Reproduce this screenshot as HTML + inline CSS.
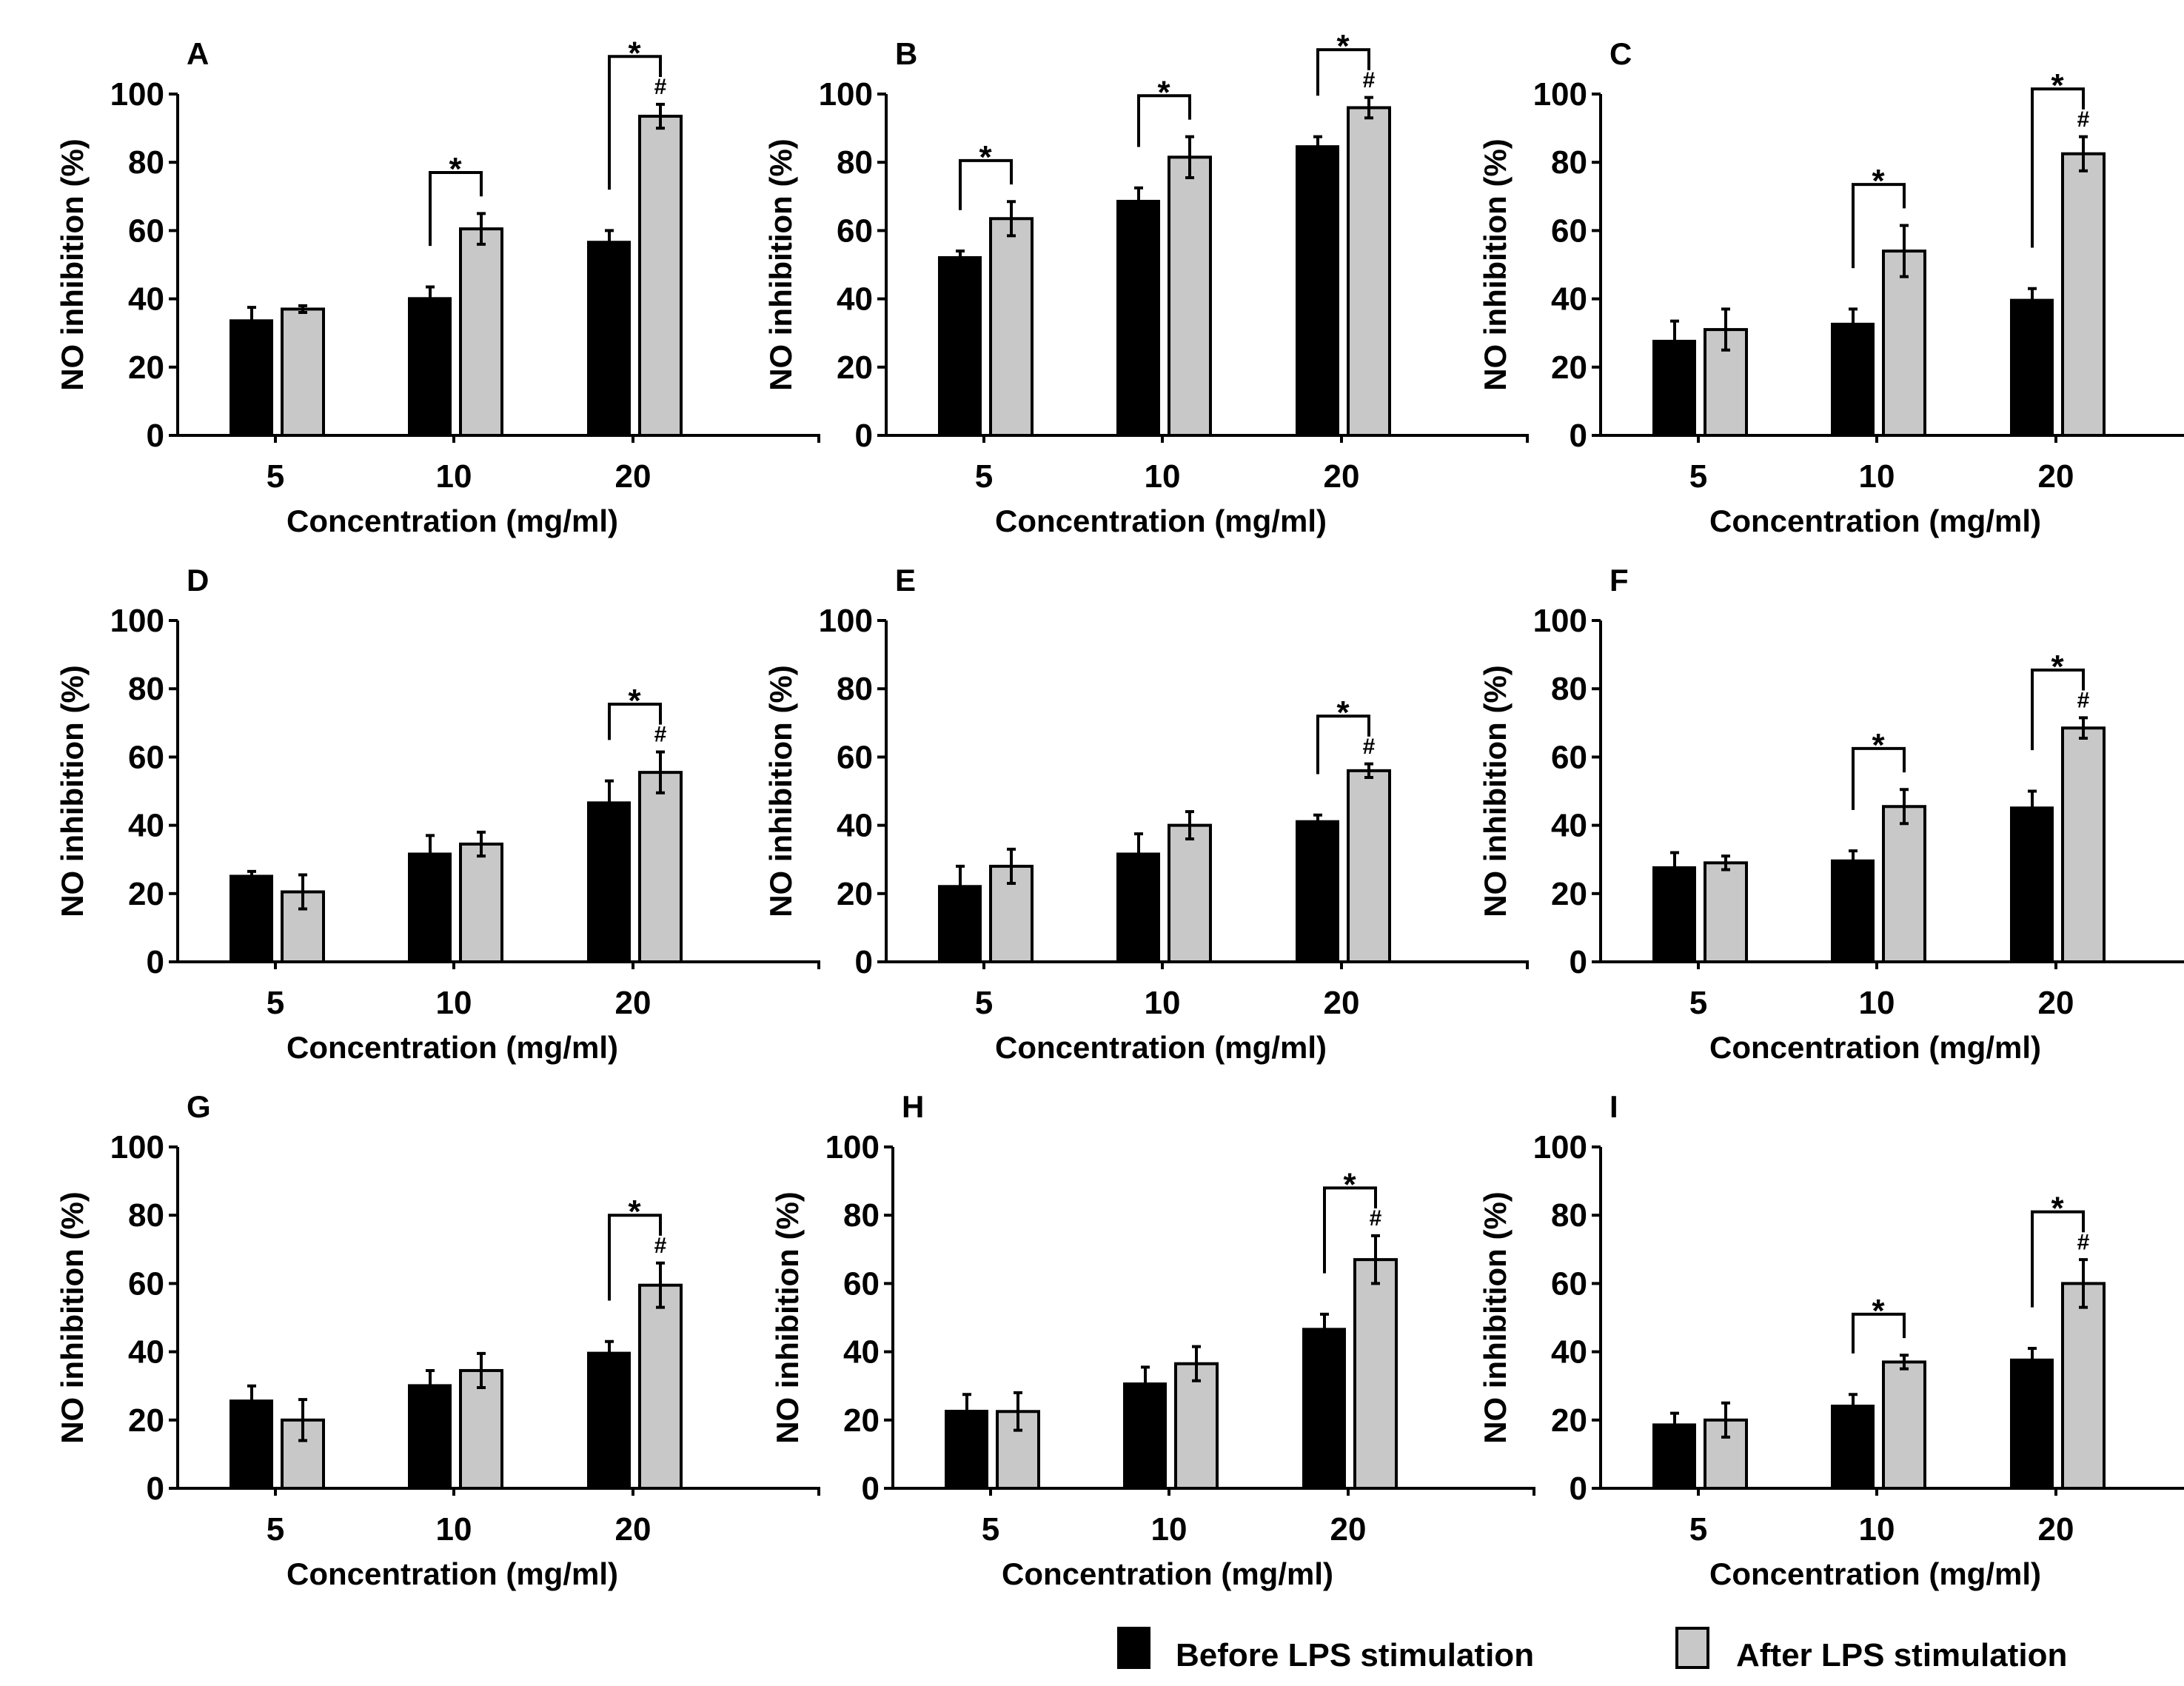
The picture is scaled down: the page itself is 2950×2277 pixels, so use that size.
<!DOCTYPE html>
<html><head><meta charset="utf-8"><style>
html,body{margin:0;padding:0;background:#fff;}
svg{display:block;font-family:"Liberation Sans",Arial,sans-serif;font-weight:bold;}
</style></head><body>
<svg id="fig" width="2950" height="2277" viewBox="0 0 2950 2277" xmlns="http://www.w3.org/2000/svg"></svg>
<script>
const categories = ["5","10","20"];
const yTicks = [0,20,40,60,80,100];
const panelLetters = ["A","B","C","D","E","F","G","H","I"];
const beforeA=[34,40.5,57], beforeErrA=[3.5,3,3], afterA=[37,60.5,93.5], afterErrA=[1,4.5,3.5];
const beforeB=[52.5,69,85], beforeErrB=[1.5,3.5,2.5], afterB=[63.5,81.5,96], afterErrB=[5,6,3];
const beforeC=[28,33,40], beforeErrC=[5.5,4,3], afterC=[31,54,82.5], afterErrC=[6,7.5,5];
const beforeD=[25.5,32,47], beforeErrD=[1,5,6], afterD=[20.5,34.5,55.5], afterErrD=[5,3.5,6];
const beforeE=[22.5,32,41.5], beforeErrE=[5.5,5.5,1.5], afterE=[28,40,56], afterErrE=[5,4,2];
const beforeF=[28,30,45.5], beforeErrF=[4,2.5,4.5], afterF=[29,45.5,68.5], afterErrF=[2,5,3];
const beforeG=[26,30.5,40], beforeErrG=[4,4,3], afterG=[20,34.5,59.5], afterErrG=[6,5,6.5];
const beforeH=[23,31,47], beforeErrH=[4.5,4.5,4], afterH=[22.5,36.5,67], afterErrH=[5.5,5,7];
const beforeI=[19,24.5,38], beforeErrI=[3,3,3], afterI=[20,37,60], afterErrI=[5,2,7];
const sigA=[0,1,1], sigB=[1,1,1], sigC=[0,1,1], sigD=[0,0,1], sigE=[0,0,1], sigF=[0,1,1], sigG=[0,0,1], sigH=[0,0,1], sigI=[0,1,1];
const hashA=[0,0,1], hashB=[0,0,1], hashC=[0,0,1], hashD=[0,0,1], hashE=[0,0,1], hashF=[0,0,1], hashG=[0,0,1], hashH=[0,0,1], hashI=[0,0,1];

const panels=[
 [beforeA,beforeErrA,afterA,afterErrA,sigA,hashA],
 [beforeB,beforeErrB,afterB,afterErrB,sigB,hashB],
 [beforeC,beforeErrC,afterC,afterErrC,sigC,hashC],
 [beforeD,beforeErrD,afterD,afterErrD,sigD,hashD],
 [beforeE,beforeErrE,afterE,afterErrE,sigE,hashE],
 [beforeF,beforeErrF,afterF,afterErrF,sigF,hashF],
 [beforeG,beforeErrG,afterG,afterErrG,sigG,hashG],
 [beforeH,beforeErrH,afterH,afterErrH,sigH,hashH],
 [beforeI,beforeErrI,afterI,afterErrI,sigI,hashI]];
const colX=[240,1197,2162];
const rowY0=[588,1299,2010];
const plotH=461, plotW=866;
const catOff=[132,373,615];
const svg=document.getElementById('fig');
const NS="http://www.w3.org/2000/svg";
function mk(tag,attrs,parent){const e=document.createElementNS(NS,tag);for(const k in attrs)e.setAttribute(k,attrs[k]);(parent||svg).appendChild(e);return e;}

panels.forEach((p,i)=>{
  const ax=colX[i%3]+(i===7?9:0), y0=rowY0[Math.floor(i/3)];
  const ys=v=>y0-v/100*plotH;
  const xs=j=>ax+catOff[j];
  const g=mk('g',{});
  
  
  const t=mk('text',{x:ax+12,y:y0-plotH-40,'font-size':42},g);t.textContent=panelLetters[i];
  
  
  const [b,be,a,ae,sig,hash]=p;
  categories.forEach((c,j)=>{
    const tx=xs(j);
    const rb=mk('rect',{x:tx-62,y:ys(b[j]),width:59,height:y0-ys(b[j]),fill:'#000'},g);
    
    
    const ra=mk('rect',{x:tx+9,y:ys(a[j]),width:56,height:y0-ys(a[j]),fill:'#c8c8c8',stroke:'#000','stroke-width':4},g);
    
    
    [[tx-32,b[j],be[j]],[tx+37,a[j],ae[j]]].forEach(([cx,v,e])=>{
      const eb=mk('path',{d:`M${cx},${ys(v-e)}V${ys(v+e)}M${cx-6},${ys(v+e)}H${cx+6}M${cx-6},${ys(v-e)}H${cx+6}`,stroke:'#000','stroke-width':4,fill:'none'},g);
      
      
    });
    if(hash[j]){
      const h=mk('text',{x:tx+37,y:ys(a[j]+ae[j]+3),'font-size':30,'text-anchor':'middle'},g);h.textContent='#';
      
      
    }
    if(sig[j]){
      const top=a[j]+ae[j]+(hash[j]?14:12);
      const left=b[j]+be[j]+12, right=a[j]+ae[j]+(hash[j]?8:5);
      const br=mk('path',{d:`M${tx-32},${ys(left)}V${ys(top)}H${tx+37}V${ys(right)}`,stroke:'#000','stroke-width':4,fill:'none'},g);
      
      
      const s=mk('text',{x:tx+2,y:ys(top)+10,'font-size':44,'text-anchor':'middle'},g);s.textContent='*';
      
      
    }
    const xl=mk('text',{x:tx,y:y0+70,'font-size':44,'text-anchor':'middle'},g);xl.textContent=c;
    
    
    mk('line',{x1:tx,y1:y0,x2:tx,y2:y0+10,stroke:'#000','stroke-width':4},g);
  });
  const axes=mk('path',{d:`M${ax},${y0-plotH}V${y0}H${ax+plotW}V${y0+10}`,stroke:'#000','stroke-width':4,fill:'none'},g);
  
  
  yTicks.forEach(v=>{
    mk('line',{x1:ax-12,y1:ys(v),x2:ax,y2:ys(v),stroke:'#000','stroke-width':4},g);
    const yl=mk('text',{x:ax-18,y:ys(v)+15,'font-size':44,'text-anchor':'end'},g);yl.textContent=v;
    
    
  });
  const yt=mk('text',{x:0,y:0,'font-size':42,'text-anchor':'middle',transform:`translate(${ax-128},${y0-plotH/2}) rotate(-90)`},g);
  yt.textContent='NO inhibition (%)';
  
  
  const xt=mk('text',{x:ax+catOff[1]-2,y:y0+130,'font-size':42,'text-anchor':'middle'},g);
  xt.textContent='Concentration (mg/ml)';
  
  
});
const lg=mk('g',{});


const l1=mk('rect',{x:1509,y:2197,width:45,height:57,fill:'#000'},lg);


const lt1=mk('text',{x:1588,y:2250,'font-size':44},lg);lt1.textContent='Before LPS stimulation';


const l2=mk('rect',{x:2265,y:2199,width:42,height:53,fill:'#c8c8c8',stroke:'#000','stroke-width':4},lg);


const lt2=mk('text',{x:2345,y:2250,'font-size':44},lg);lt2.textContent='After LPS stimulation';


</script>
</body></html>
